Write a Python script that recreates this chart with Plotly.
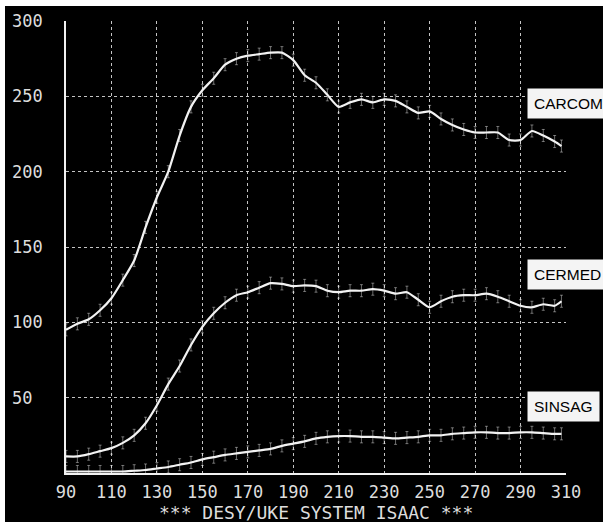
import plotly.graph_objects as go

# ---- data ----
x_vals = [90, 95, 100, 105, 110, 115, 120, 125, 130, 135, 140, 145, 150, 155, 160,
          165, 170, 175, 180, 185, 190, 195, 200, 205, 210, 215, 220, 225, 230, 235,
          240, 245, 250, 255, 260, 265, 270, 275, 280, 285, 290, 295, 300, 305, 308]

carcom = [95, 99, 102, 108, 116, 128, 141, 163, 183, 200, 224, 243, 254, 262, 271,
          275, 277, 278, 279, 279, 274, 264, 259, 251, 243, 246, 248, 246, 248, 247,
          243, 239, 240, 235, 231, 228, 226, 226, 226, 221, 221, 227, 224, 220, 217]

cermed = [11, 11, 12.5, 14.5, 16.5, 20, 25, 33, 45, 59, 71, 85, 97, 106, 113,
          118, 120, 123, 126, 125.5, 124, 124.5, 124, 121, 120, 121, 121, 122, 121, 119,
          120, 115, 110, 114, 117, 118, 118, 119, 117, 114, 111, 110, 112, 111, 114]

sinsag = [1, 1, 1, 1, 1, 1, 1.5, 2, 3, 4, 5.5, 7, 9, 10.5, 12,
          13, 14, 15, 16, 18, 19.5, 21, 23, 24, 24.5, 24.5, 24, 24, 23.5, 23,
          23.5, 24, 25, 25, 26, 26.5, 27, 27, 26.5, 26.5, 27, 27, 26.5, 26, 26]

series_names = ["CARCOM", "CERMED", "SINSAG"]
series_values = [carcom, cermed, sinsag]
label_y = [245, 132, 44]

x_ticks = [90, 110, 130, 150, 170, 190, 210, 230, 250, 270, 290, 310]
y_ticks = [50, 100, 150, 200, 250, 300]
subtitle = "*** DESY/UKE SYSTEM ISAAC ***"

FG = "#f2f2f2"
MONO = "DejaVu Sans Mono, Liberation Mono, monospace"

fig = go.Figure()
for name, vals in zip(series_names, series_values):
    fig.add_trace(go.Scatter(
        x=x_vals, y=vals, mode="lines", name=name,
        line=dict(color=FG, width=2.2, shape="spline", smoothing=0.6),
        error_y=dict(type="constant", value=4, color="rgba(235,235,235,0.45)",
                     thickness=1, width=1.5),
        showlegend=False, hoverinfo="x+y+name"))

annotations = []
for name, ly in zip(series_names, label_y):
    annotations.append(dict(
        x=1.0, xref="paper", xshift=527 - 566, y=ly, yref="y",
        text=name, showarrow=False, xanchor="left", yanchor="middle",
        font=dict(family="Liberation Sans, Arial, sans-serif", size=15.5, color="black"),
        bgcolor="#f4f4f4", borderpad=6))

for yt in y_ticks:
    annotations.append(dict(
        x=0, xref="paper", xshift=10 - 66, y=yt, yref="y", text=str(yt),
        showarrow=False, xanchor="left", yanchor="middle",
        font=dict(family=MONO, size=17, color="#dddddd")))

annotations.append(dict(
    x=0.5, xref="paper", y=0, yref="paper", yshift=-39, text=subtitle,
    showarrow=False, xanchor="center", yanchor="middle",
    font=dict(family=MONO, size=18, color="#dddddd")))

grid_style = dict(showgrid=True, gridcolor="rgba(230,230,230,0.85)", griddash="dot",
                  gridwidth=1, zeroline=False)

fig.update_layout(
    width=603, height=522,
    margin=dict(l=66, r=37, t=21, b=49, autoexpand=False),
    paper_bgcolor="black", plot_bgcolor="black",
    xaxis=dict(range=[90, 310], tickvals=x_ticks, ticktext=[str(v) for v in x_ticks],
               tickfont=dict(family=MONO, size=17, color="#dddddd"),
               ticks="", ticklabelstandoff=3,
               showline=True, linecolor=FG, linewidth=2, **grid_style),
    yaxis=dict(range=[0, 300], tickvals=y_ticks, showticklabels=False, ticks="",
               showline=True, linecolor=FG, linewidth=2, **grid_style),
    annotations=annotations,
    shapes=[
        dict(type="rect", xref="paper", yref="paper", x0=-0.14, x1=(5 - 66) / 500,
             y0=-0.12, y1=1.06, fillcolor="white", line=dict(width=0)),
        dict(type="rect", xref="paper", yref="paper", x0=-0.14, x1=1.1,
             y0=(473 - 6) / 452, y1=1.06, fillcolor="white", line=dict(width=0)),
    ],
)

fig.write_html("out.html", config={"displayModeBar": False},
               post_script="document.body.style.margin='0';document.body.style.overflow='hidden';")
